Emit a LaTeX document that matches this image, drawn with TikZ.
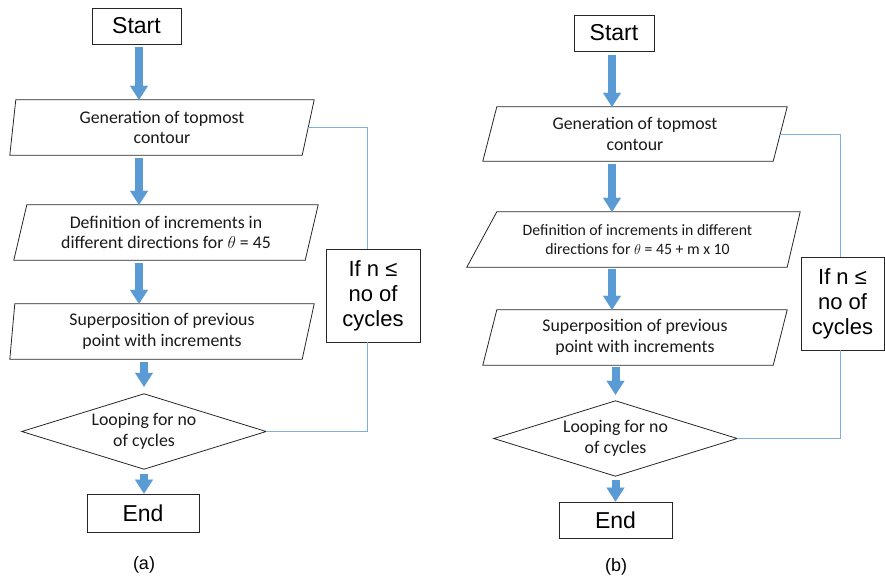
\documentclass[tikz,border=0pt]{standalone}
\usepackage{fontspec}
\setmainfont{Carlito}
\newfontfamily\arialf{Liberation Sans}
\usetikzlibrary{arrows.meta,calc}
\definecolor{barfill}{RGB}{91,155,213}
\definecolor{loopc}{RGB}{125,175,222}
\begin{document}
\begin{tikzpicture}[x=1pt,y=-1pt,
  box/.style={draw=black!85, line width=0.8pt, inner sep=0pt, font=\arialf\fontsize{23}{27}\selectfont},
  ifbox/.style={draw=black!85, line width=0.8pt, inner sep=0pt, align=center, font=\arialf\fontsize{22}{25}\selectfont},
  ghost/.style={inner sep=0pt, align=center, text=black!90, font=\fontsize{17.8}{20.5}\selectfont},
  outline/.style={draw=black!85, line width=0.8pt},
  barrow/.style={draw=barfill, line width=8pt, -{Triangle[width=18pt,length=14pt,line width=0.1pt]}},
  loopline/.style={draw=loopc, line width=1pt},
  captext/.style={font=\arialf\fontsize{18}{21}\selectfont}
]
\useasboundingbox (0,0) rectangle (885,579);

% ---------------- (a) ----------------
\coordinate (xa) at (139,0);
\coordinate (xab) at (144,0);
\coordinate (lxa) at (367.5,0);

\node[box, minimum width=89, minimum height=36] (s1) at (136.5,26) {Start};
\node[ghost, minimum width=304, minimum height=55] (g1) at (162,127.5) {Generation of topmost\\contour};
\draw[outline] ([xshift=6]g1.north west) -- (g1.north east) -- ([xshift=-12]g1.south east) -- (g1.south west) -- cycle;
\node[ghost, minimum width=304, minimum height=55] (f1) at (166,232.5) {Definition of increments in\\different directions for $\theta$ = 45};
\draw[outline] ([xshift=13]f1.north west) -- (f1.north east) -- ([xshift=-13]f1.south east) -- (f1.south west) -- cycle;
\node[ghost, minimum width=304, minimum height=55] (p1) at (162,331.5) {Superposition of previous\\point with increments};
\draw[outline] ([xshift=5]p1.north west) -- (p1.north east) -- ([xshift=-12]p1.south east) -- (p1.south west) -- cycle;
\node[ghost, minimum width=244, minimum height=75] (d1) at (144,431.5) {Looping for no\\of cycles};
\draw[outline] (d1.north) -- (d1.east) -- (d1.south) -- (d1.west) -- cycle;
\node[box, minimum width=112, minimum height=38] (e1) at (143,513) {End};
\node[ifbox, minimum width=94, minimum height=93] (if1) at (373,295.5) {If n ≤\\no of\\cycles};
\node[captext] (ca) at (144,565) {(a)};

\draw[barrow, shorten <=3pt] (s1.south -| xa) -- (g1.north -| xa);
\draw[barrow, shorten <=3pt] (g1.south -| xa) -- (f1.north -| xa);
\draw[barrow, shorten <=3pt] (f1.south -| xa) -- (p1.north -| xa);
\draw[barrow, shorten <=3pt, shorten >=7pt] (p1.south -| xab) -- (d1.north -| xab);
\draw[barrow, shorten <=5pt] (d1.south -| xab) -- (e1.north -| xab);

\coordinate (g1e) at ([xshift=-6]g1.east);
\draw[loopline] (g1e) -| (if1.north -| lxa);
\draw[loopline] (if1.south -| lxa) |- (d1.east);

% ---------------- (b) ----------------
\coordinate (xb) at (612,0);
\coordinate (xbb) at (615.5,0);
\coordinate (lxb) at (840.5,0);

\node[box, minimum width=80, minimum height=36] (s2) at (614,33) {Start};
\node[ghost, minimum width=304, minimum height=54] (g2) at (635,134) {Generation of topmost\\contour};
\draw[outline] ([xshift=14]g2.north west) -- (g2.north east) -- ([xshift=-14]g2.south east) -- (g2.south west) -- cycle;
\node[ghost, minimum width=333, minimum height=55, font=\fontsize{15.8}{19.5}\selectfont] (f2) at (633.5,239.5) {\hspace*{8pt}Definition of increments in different\\\hspace*{8pt}directions for $\theta$ = 45 + m x 10};
\draw[outline] ([xshift=30]f2.north west) -- (f2.north east) -- ([xshift=-13]f2.south east) -- (f2.south west) -- cycle;
\node[ghost, minimum width=304, minimum height=55] (p2) at (635,337.5) {Superposition of previous\\point with increments};
\draw[outline] ([xshift=14]p2.north west) -- (p2.north east) -- ([xshift=-14]p2.south east) -- (p2.south west) -- cycle;
\node[ghost, minimum width=243, minimum height=75] (d2) at (615.5,438.5) {Looping for no\\of cycles};
\draw[outline] (d2.north) -- (d2.east) -- (d2.south) -- (d2.west) -- cycle;
\node[box, minimum width=113, minimum height=36] (e2) at (615.5,520) {End};
\node[ifbox, minimum width=83, minimum height=93] (if2) at (842.5,303.5) {If n ≤\\no of\\cycles};
\node[captext] (cb) at (616,567) {(b)};

\draw[barrow, shorten <=4pt] (s2.south -| xb) -- (g2.north -| xb);
\draw[barrow, shorten <=3pt] (g2.south -| xb) -- (f2.north -| xb);
\draw[barrow, shorten <=2pt] (f2.south -| xb) -- (p2.north -| xb);
\draw[barrow, shorten <=2pt, shorten >=6pt] (p2.south -| xbb) -- (d2.north -| xbb);
\draw[barrow, shorten <=4pt] (d2.south -| xbb) -- (e2.north -| xbb);

\coordinate (g2e) at ([xshift=-7]g2.east);
\draw[loopline] (g2e) -| (if2.north -| lxb);
\draw[loopline] (if2.south -| lxb) |- (d2.east);
\end{tikzpicture}
\end{document}
